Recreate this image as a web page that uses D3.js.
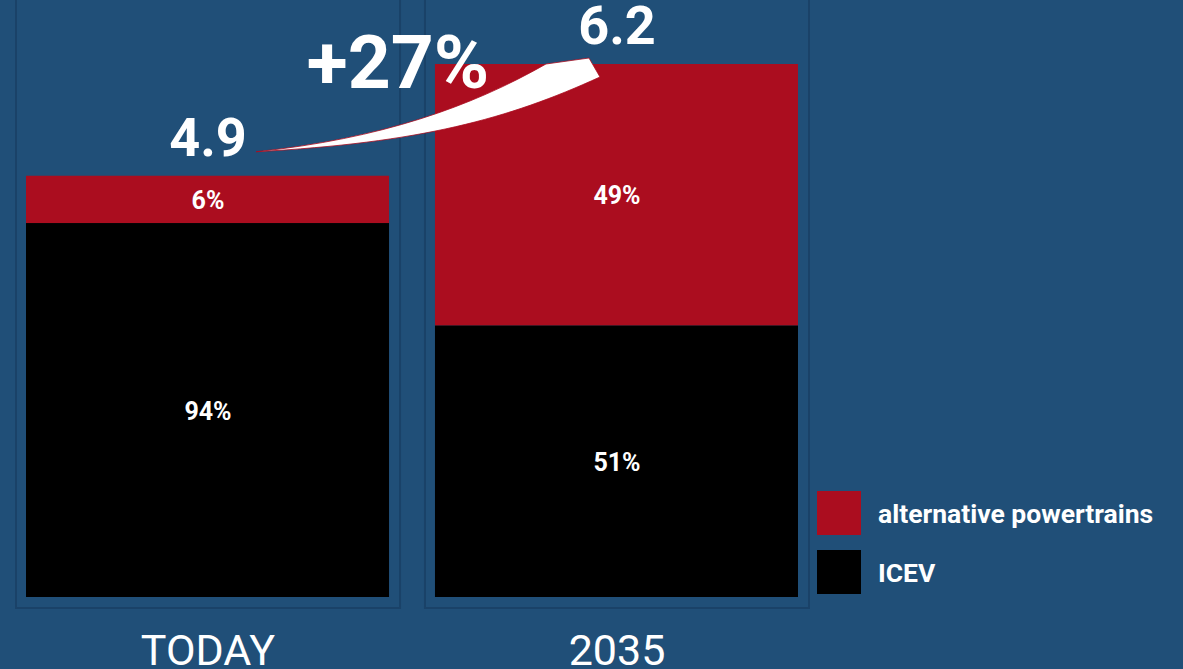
<!DOCTYPE html>
<html>
<head>
<meta charset="utf-8">
<script src="https://cdn.jsdelivr.net/npm/d3@7"></script>
<style>
    body { margin: 0; background: #204f78; }
    svg { display: block; font-family: Roboto, 'Noto Sans', sans-serif; }
</style>
</head>
<body>
<div class="chart"></div>
<script>
// Data (million units, segment sizes as drawn)
const categories = ['TODAY', '2035'];
const totals = [4.9, 6.2];
const altValues = [0.55, 3.04];
const icevValues = [4.35, 3.16];
const altLabels = ['6%', '49%'];
const icevLabels = ['94%', '51%'];
const growthLabel = '+27%';
const seriesNames = ['alternative powertrains', 'ICEV'];
const seriesColors = ['#ab0d1f', '#000000'];

const width = 1183;
const height = 669;

const svg = d3.select('.chart')
    .append('svg')
    .attr('width', width)
    .attr('height', height);

svg.append('rect')
    .attr('width', width)
    .attr('height', height)
    .attr('fill', '#204f78');

// Scales
const xScale = d3.scaleBand()
    .domain(categories)
    .range([16, 809])
    .paddingInner(0.061);

const yScale = d3.scaleLinear()
    .domain([0, 6.2])
    .range([597, 64]);

const inset = 10;
const barX = c => xScale(c) + inset;
const barW = xScale.bandwidth() - inset * 2 - 1;
const midX = c => xScale(c) + xScale.bandwidth() / 2;

// Panels
svg.selectAll('.panel')
    .data(categories)
    .enter()
    .append('rect')
    .attr('class', 'panel')
    .attr('x', d => xScale(d))
    .attr('y', -10)
    .attr('width', xScale.bandwidth())
    .attr('height', yScale(0) + 11 + 10)
    .attr('fill', 'none')
    .attr('stroke', '#1a4268')
    .attr('stroke-width', 2);

// Stacked bars
const rows = categories.map((c, i) => ({
    cat: c, alt: altValues[i], icev: icevValues[i],
    altLabel: altLabels[i], icevLabel: icevLabels[i], total: totals[i]
}));

svg.selectAll('.icev')
    .data(rows)
    .enter()
    .append('rect')
    .attr('class', 'icev')
    .attr('x', d => barX(d.cat))
    .attr('y', d => yScale(d.icev))
    .attr('width', barW)
    .attr('height', d => yScale(0) - yScale(d.icev))
    .attr('fill', seriesColors[1]);

svg.selectAll('.alt')
    .data(rows)
    .enter()
    .append('rect')
    .attr('class', 'alt')
    .attr('x', d => barX(d.cat))
    .attr('y', d => yScale(d.icev + d.alt))
    .attr('width', barW)
    .attr('height', d => yScale(d.icev) - yScale(d.icev + d.alt))
    .attr('fill', seriesColors[0]);

// Segment labels
const segLabel = svg.append('g')
    .attr('fill', '#fff')
    .attr('font-weight', 700)
    .attr('font-size', 25)
    .attr('text-anchor', 'middle')
    .attr('dominant-baseline', 'central');

segLabel.selectAll('.alt-label')
    .data(rows)
    .enter()
    .append('text')
    .attr('x', d => midX(d.cat))
    .attr('y', d => yScale(d.icev + d.alt / 2) + 1)
    .text(d => d.altLabel);

segLabel.selectAll('.icev-label')
    .data(rows)
    .enter()
    .append('text')
    .attr('x', d => midX(d.cat))
    .attr('y', d => yScale(d.icev / 2) + 1)
    .text(d => d.icevLabel);

// Totals
svg.selectAll('.total')
    .data(rows)
    .enter()
    .append('text')
    .attr('class', 'total')
    .attr('x', d => midX(d.cat))
    .attr('y', d => yScale(d.total) - 20)
    .attr('text-anchor', 'middle')
    .attr('fill', '#fff')
    .attr('font-weight', 700)
    .attr('font-size', 54)
    .text(d => d.total.toFixed(1));

// Growth swoosh
const x0 = midX(categories[0]) + 48;
const y0 = yScale(totals[0]) - 24;
const x1 = midX(categories[1]) - 9;
const y1 = yScale(totals[1]);
const swoosh = d3.path();
swoosh.moveTo(x0, y0);
swoosh.bezierCurveTo(x0 + 125, y0 - 13, x0 + 215, y0 - 45, x1 - 62, y1);
swoosh.lineTo(x1 - 19, y1 - 6);
swoosh.lineTo(x1 - 8, y1 + 13);
swoosh.bezierCurveTo(x1 - 100, y1 + 55, x0 + 165, y0 - 9, x0, y0);
swoosh.closePath();

svg.append('path')
    .attr('d', swoosh.toString())
    .attr('fill', '#fff')
    .attr('stroke', '#ab0d1f')
    .attr('stroke-width', 0.8);

svg.append('text')
    .attr('x', (x0 + x1) / 2 - 34)
    .attr('y', 88)
    .attr('text-anchor', 'middle')
    .attr('fill', '#fff')
    .attr('font-weight', 700)
    .attr('font-size', 75)
    .text(growthLabel);

// Category labels
svg.selectAll('.cat')
    .data(categories)
    .enter()
    .append('text')
    .attr('class', 'cat')
    .attr('x', d => midX(d))
    .attr('y', 665)
    .attr('text-anchor', 'middle')
    .attr('fill', '#fff')
    .attr('font-size', 43)
    .text(d => d);

// Legend
const legend = svg.append('g')
    .attr('transform', 'translate(817, 491)');

const items = legend.selectAll('.legend-item')
    .data(seriesNames)
    .enter()
    .append('g')
    .attr('transform', (d, i) => `translate(0, ${i * 59})`);

items.append('rect')
    .attr('width', 44)
    .attr('height', 44)
    .attr('fill', (d, i) => seriesColors[i]);

items.append('text')
    .attr('x', 61)
    .attr('y', 22)
    .attr('dominant-baseline', 'central')
    .attr('fill', '#fff')
    .attr('font-weight', 700)
    .attr('font-size', 26.5)
    .text(d => d);
</script>
</body>
</html>
